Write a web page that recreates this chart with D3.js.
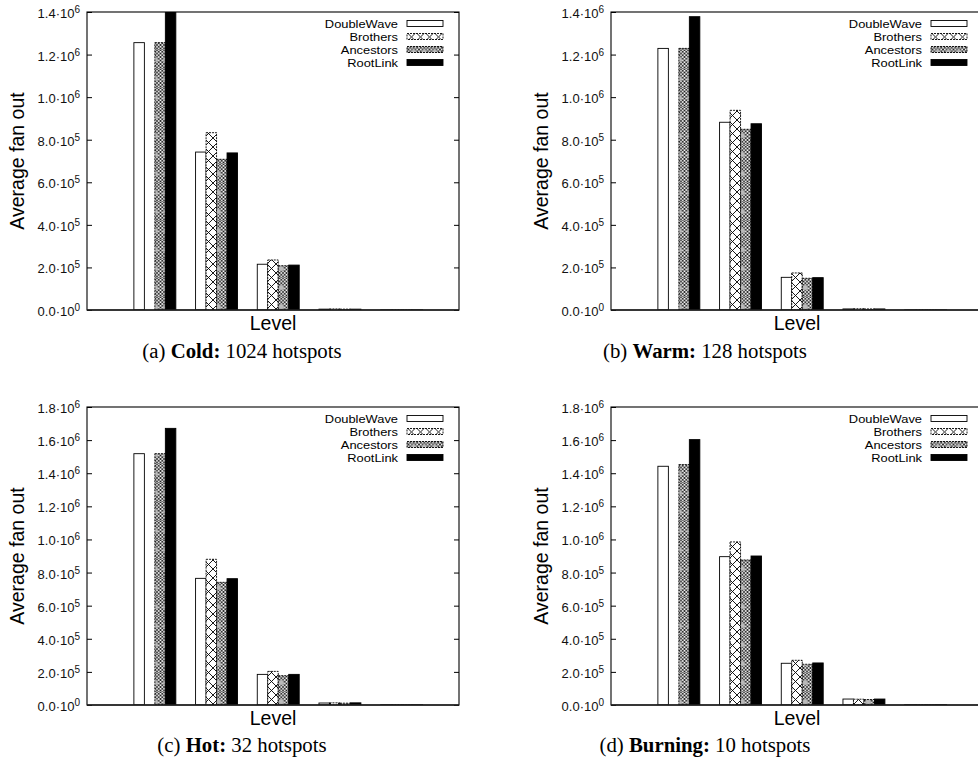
<!DOCTYPE html>
<meta charset="utf-8">
<style>
body { margin: 0; background: #fff; }
svg { display: block; font-family: "Liberation Sans", Arial, sans-serif; }
.tick line { stroke: #000; }
.caption { font-family: "Liberation Serif", "Times New Roman", serif; font-size: 20.8px; }
</style>
<svg width="978" height="764"></svg>
<script src="https://d3js.org/d3.v7.min.js"></script>
<script>

var levels = [1, 2, 3, 4, 5];
var seriesNames = ["DoubleWave", "Brothers", "Ancestors", "RootLink"];

// (a) Cold
var coldDoubleWave = [1256000, 742000, 215000, 4000, 400];
var coldBrothers   = [0, 833000, 235000, 5000, 500];
var coldAncestors  = [1256000, 708000, 208000, 4000, 400];
var coldRootLink   = [1450000, 738000, 211000, 4000, 400];

// (b) Warm
var warmDoubleWave = [1229000, 882000, 153500, 5000, 300];
var warmBrothers   = [0, 938000, 174000, 6000, 300];
var warmAncestors  = [1229000, 849000, 149000, 5000, 300];
var warmRootLink   = [1378000, 875000, 152000, 5000, 300];

// (c) Hot
var hotDoubleWave = [1518000, 765000, 185000, 12000, 1000];
var hotBrothers   = [0, 880000, 203000, 13000, 1000];
var hotAncestors  = [1518000, 741000, 177000, 11000, 1000];
var hotRootLink   = [1671000, 763000, 185000, 13000, 1000];

// (d) Burning
var burningDoubleWave = [1442000, 896000, 252000, 36000, 1500];
var burningBrothers   = [0, 985000, 270000, 35000, 1500];
var burningAncestors  = [1452000, 876000, 246000, 33000, 1500];
var burningRootLink   = [1603000, 900000, 254000, 36000, 1500];

var yTicksLow  = [0, 2e5, 4e5, 6e5, 8e5, 1e6, 1.2e6, 1.4e6];
var yTicksHigh = [0, 2e5, 4e5, 6e5, 8e5, 1e6, 1.2e6, 1.4e6, 1.6e6, 1.8e6];

var captionTags = ["(a)", "(b)", "(c)", "(d)"];
var captionBold = ["Cold:", "Warm:", "Hot:", "Burning:"];
var captionRest = ["1024 hotspots", "128 hotspots", "32 hotspots", "10 hotspots"];

var svg = d3.select("svg");
var W = 372, H = 298;
var barW = 0.17;

// ---- patterns
var defs = svg.append("defs");
var pb = defs.append("pattern").attr("id", "pat-brothers")
    .attr("patternUnits", "userSpaceOnUse").attr("width", 9).attr("height", 9);
pb.append("rect").attr("width", 9).attr("height", 9).attr("fill", "#fff");
pb.append("path").attr("d", "M0,0L9,9M9,0L0,9M-1,8L1,10M8,-1L10,1")
    .attr("stroke", "#000").attr("stroke-width", 0.9).attr("fill", "none");

var pf = defs.append("pattern").attr("id", "pat-fine")
    .attr("patternUnits", "userSpaceOnUse").attr("width", 3.5).attr("height", 3.5);
pf.append("rect").attr("width", 3.5).attr("height", 3.5).attr("fill", "#fff");
pf.append("path").attr("d", "M0,0L3.5,3.5M3.5,0L0,3.5")
    .attr("stroke", "#000").attr("stroke-width", 0.8).attr("fill", "none");

var pa = defs.append("pattern").attr("id", "pat-ancestors")
    .attr("patternUnits", "userSpaceOnUse").attr("width", 10.5).attr("height", 19);
pa.append("rect").attr("width", 10.5).attr("height", 19).attr("fill", "url(#pat-fine)");
pa.append("circle").attr("cx", 5.25).attr("cy", 9.5).attr("r", 2.6)
    .attr("fill", "#bbb").attr("stroke", "#999").attr("stroke-width", 0.6);

var fills = ["#fff", "url(#pat-brothers)", "url(#pat-ancestors)", "#000"];
var dashes = [null, "2,1", "2,1", null];

function fmtTick(v) {
  if (v === 0) return ["0.0·10", "0"];
  var e = Math.floor(Math.log10(v) + 1e-9);
  return [(v / Math.pow(10, e)).toFixed(1) + "·10", String(e)];
}

function drawPanel(idx, ox, oy, series, yMax, yTicks, capX, capY) {
  var g = svg.append("g").attr("transform", "translate(" + ox + "," + oy + ")");
  var x = d3.scaleLinear().domain([-0.1, 5.93]).range([0, W]);
  var y = d3.scaleLinear().domain([0, yMax]).range([H, 0]);

  var cid = "clip" + idx;
  g.append("clipPath").attr("id", cid).append("rect").attr("width", W).attr("height", H);

  var bars = g.append("g").attr("clip-path", "url(#" + cid + ")");
  series.forEach(function(vals, si) {
    bars.selectAll(null).data(vals).enter().append("rect")
      .attr("x", function(d, i) { return x(levels[i] - 2 * barW + si * barW); })
      .attr("width", x(barW) - x(0))
      .attr("y", function(d) { return y(d); })
      .attr("height", function(d) { return H - y(d); })
      .attr("fill", fills[si])
      .attr("stroke", "#000")
      .attr("stroke-width", 0.9)
      .attr("stroke-dasharray", dashes[si]);
  });

  // y axis (inward ticks, mirrored on right)
  var ya = g.append("g").call(d3.axisLeft(y).tickValues(yTicks).tickSizeInner(-5).tickSizeOuter(0).tickFormat(""));
  ya.select(".domain").remove();
  var yr = g.append("g").attr("transform", "translate(" + W + ",0)")
    .call(d3.axisRight(y).tickValues(yTicks).tickSizeInner(-5).tickSizeOuter(0).tickFormat(""));
  yr.select(".domain").remove();

  var lab = g.append("g").selectAll("text").data(yTicks).enter().append("text")
    .attr("x", -7).attr("y", function(d) { return y(d) + 6; })
    .attr("text-anchor", "end").attr("font-size", 13).attr("fill", "#111");
  lab.append("tspan").text(function(d) { return fmtTick(d)[0]; });
  lab.append("tspan").attr("dy", -5).attr("font-size", 10).text(function(d) { return fmtTick(d)[1]; });

  // frame
  g.append("rect").attr("width", W).attr("height", H)
    .attr("fill", "none").attr("stroke", "#000").attr("stroke-width", 1.1);
  g.append("line").attr("x1", 0).attr("x2", W).attr("y1", H).attr("y2", H)
    .attr("stroke", "#222").attr("stroke-width", 1.6);

  // axis titles
  g.append("text").attr("transform", "translate(-63," + (H / 2) + ") rotate(-90)")
    .attr("text-anchor", "middle").attr("font-size", 19.5).text("Average fan out");
  g.append("text").attr("x", W / 2).attr("y", H + 20)
    .attr("text-anchor", "middle").attr("font-size", 19.5).text("Level");

  // legend (text slightly widened, as in the original)
  var lg = g.append("g").attr("transform", "translate(311,11.5)");
  seriesNames.forEach(function(name, si) {
    lg.append("text")
      .attr("transform", "translate(0," + (si * 13 + 4.2) + ") scale(1.15,1)")
      .attr("text-anchor", "end").attr("font-size", 11.2).text(name);
    lg.append("rect").attr("x", 9).attr("y", si * 13 - 3).attr("width", 36).attr("height", 6)
      .attr("fill", fills[si]).attr("stroke", "#000").attr("stroke-width", 0.9)
      .attr("stroke-dasharray", dashes[si]);
  });

  // caption
  var cap = svg.append("text").attr("class", "caption")
    .attr("x", capX).attr("y", capY).attr("text-anchor", "middle");
  cap.append("tspan").text(captionTags[idx] + " ");
  cap.append("tspan").attr("font-weight", "bold").text(captionBold[idx]);
  cap.append("tspan").text(" " + captionRest[idx]);
}

drawPanel(0, 87, 12, [coldDoubleWave, coldBrothers, coldAncestors, coldRootLink], 1.4e6, yTicksLow, 242, 358);
drawPanel(1, 611, 12, [warmDoubleWave, warmBrothers, warmAncestors, warmRootLink], 1.4e6, yTicksLow, 705, 358);
drawPanel(2, 87, 407, [hotDoubleWave, hotBrothers, hotAncestors, hotRootLink], 1.8e6, yTicksHigh, 242, 752);
drawPanel(3, 611, 407, [burningDoubleWave, burningBrothers, burningAncestors, burningRootLink], 1.8e6, yTicksHigh, 705, 752);
</script>
